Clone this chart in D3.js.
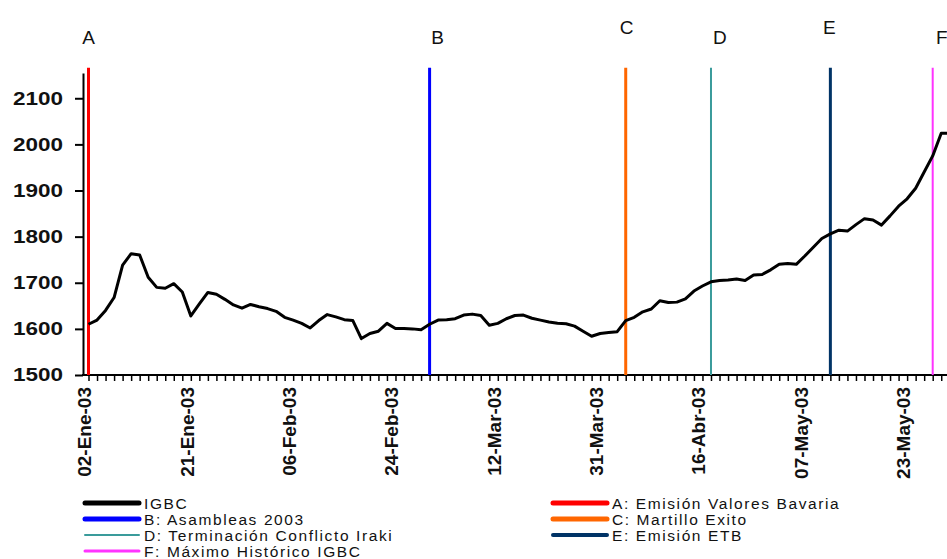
<!DOCTYPE html>
<html>
<head>
<meta charset="utf-8">
<script src="https://cdn.jsdelivr.net/npm/d3@7"></script>
<style>
  body { margin: 0; background: #fff; }
  svg { display: block; font-family: "Liberation Sans", Arial, sans-serif; }
</style>
</head>
<body>
<div id="chart"></div>
<script>
// IGBC daily close, one value per trading day starting 02-Ene-03
var igbc = [1610, 1619, 1640, 1668, 1738, 1763, 1760, 1712, 1690, 1688,
    1698, 1680, 1628, 1654, 1679, 1675, 1664, 1652, 1645, 1653,
    1648, 1644, 1638, 1625, 1619, 1612, 1602, 1618, 1631, 1626,
    1620, 1618, 1579, 1590, 1595, 1612, 1601, 1601, 1600, 1598,
    1610, 1619, 1620, 1622, 1630, 1632, 1629, 1608, 1612, 1622,
    1629, 1630, 1623, 1619, 1615, 1612, 1611, 1606, 1595, 1584,
    1590, 1592, 1594, 1618, 1625, 1637, 1643, 1661, 1657, 1658,
    1665, 1682, 1693, 1702, 1705, 1706, 1708, 1705, 1717, 1718,
    1728, 1740, 1742, 1740, 1758, 1777, 1796, 1806, 1814, 1812,
    1826, 1839, 1836, 1825, 1845, 1866, 1882, 1905, 1940, 1975,
    2024, 2024];

// date labels, shown every 12 trading days
var dateLabels = ["02-Ene-03", "21-Ene-03", "06-Feb-03", "24-Feb-03", "12-Mar-03",
    "31-Mar-03", "16-Abr-03", "07-May-03", "23-May-03"];
var labelStep = 12;

var yTicks = [1500, 1600, 1700, 1800, 1900, 2000, 2100];

// events (trading day index)
var eventLetters = ["A", "B", "C", "D", "E", "F"];
var eventNames = ["Emisión Valores Bavaria", "Asambleas 2003", "Martillo Exito",
    "Terminación Conflicto Iraki", "Emisión ETB", "Máximo Histórico IGBC"];
var eventDays = [0, 40, 63, 73, 87, 99];

// styling for the events
var eventColors = ["#ff0000", "#0000ff", "#ff6600", "#3a9b9b", "#003366", "#ff33ff"];
var eventWidths = [3, 3, 3, 2, 3, 2];
var legendWidths = [5, 5, 5, 2, 4, 3];
var letterDx = [0, 8, 1, 9, -1, 9];
var letterRow = [0, 0, 1, 0, 1, 0];

var width = 947, height = 559;

var x = d3.scaleLinear().domain([0, 99]).range([88.5, 932.7]);
var y = d3.scaleLinear().domain([1500, 2155]).range([375, 72.9]);

var svg = d3.select("#chart").append("svg")
    .attr("width", width)
    .attr("height", height);

// y axis
var yAxis = svg.append("g")
    .attr("transform", "translate(83,0)")
    .call(d3.axisLeft(y).tickValues(yTicks).tickFormat(d3.format("d"))
        .tickSize(8).tickSizeOuter(0).tickPadding(12));
yAxis.select(".domain").attr("stroke-width", 2);
yAxis.selectAll(".tick line").attr("stroke-width", 2);
yAxis.selectAll(".tick text")
    .attr("font-size", 18)
    .attr("font-weight", "bold")
    .attr("fill", "#111")
    .attr("textLength", 50)
    .attr("lengthAdjust", "spacingAndGlyphs");

// x axis: a minor tick on every trading day
var xAxis = svg.append("g")
    .attr("transform", "translate(0,375)")
    .call(d3.axisBottom(x).tickValues(d3.range(0, igbc.length)).tickSize(6).tickFormat(""));
xAxis.select(".domain").remove();
xAxis.selectAll(".tick line").attr("stroke-width", 1.5);
svg.append("line")
    .attr("x1", 82).attr("x2", width)
    .attr("y1", 375).attr("y2", 375)
    .attr("stroke", "#000")
    .attr("stroke-width", 2);

svg.append("g").selectAll("text")
    .data(dateLabels)
    .enter().append("text")
    .attr("transform", function (d, i) {
        return "translate(" + x(i * labelStep) + ",387) rotate(-90)";
    })
    .attr("text-anchor", "end")
    .attr("dy", "2.8")
    .attr("font-size", 19)
    .attr("font-weight", "bold")
    .attr("fill", "#111")
    .text(function (d) { return d; });

// event lines
var ev = svg.append("g");
ev.selectAll("line")
    .data(eventDays)
    .enter().append("line")
    .attr("x1", function (d) { return x(d); })
    .attr("x2", function (d) { return x(d); })
    .attr("y1", y(2166))
    .attr("y2", y(1500))
    .attr("stroke", function (d, i) { return eventColors[i]; })
    .attr("stroke-width", function (d, i) { return eventWidths[i]; });

ev.selectAll("text")
    .data(eventDays)
    .enter().append("text")
    .attr("x", function (d, i) { return x(d) + letterDx[i]; })
    .attr("y", function (d, i) { return letterRow[i] ? 33.5 : 43.5; })
    .attr("text-anchor", "middle")
    .attr("font-size", 19)
    .attr("fill", "#111")
    .text(function (d, i) { return eventLetters[i]; });

// IGBC line
var line = d3.line()
    .x(function (d, i) { return x(i); })
    .y(function (d) { return y(d); });

svg.append("path")
    .datum(igbc)
    .attr("d", line)
    .attr("fill", "none")
    .attr("stroke", "#000")
    .attr("stroke-width", 3)
    .attr("stroke-linejoin", "round");

// legend
var legendItems = [
    {label: "IGBC", color: "#000", w: 5, col: 0, row: 0},
    {label: "A: " + eventNames[0], color: eventColors[0], w: legendWidths[0], col: 1, row: 0},
    {label: "B: " + eventNames[1], color: eventColors[1], w: legendWidths[1], col: 0, row: 1},
    {label: "C: " + eventNames[2], color: eventColors[2], w: legendWidths[2], col: 1, row: 1},
    {label: "D: " + eventNames[3], color: eventColors[3], w: legendWidths[3], col: 0, row: 2},
    {label: "E: " + eventNames[4], color: eventColors[4], w: legendWidths[4], col: 1, row: 2},
    {label: "F: " + eventNames[5], color: eventColors[5], w: legendWidths[5], col: 0, row: 3}
];
var colX = [85, 553];

var lg = svg.append("g").selectAll("g")
    .data(legendItems)
    .enter().append("g")
    .attr("transform", function (d) {
        return "translate(" + colX[d.col] + "," + (503 + d.row * 16) + ")";
    });

lg.append("line")
    .attr("x1", 0).attr("x2", 54)
    .attr("stroke", function (d) { return d.color; })
    .attr("stroke-width", function (d) { return d.w; })
    .attr("stroke-linecap", "round");

lg.append("text")
    .attr("x", 59)
    .attr("dy", "0.36em")
    .attr("font-size", 15.5)
    .attr("letter-spacing", 1.6)
    .attr("fill", "#111")
    .text(function (d) { return d.label; });
</script>
</body>
</html>
